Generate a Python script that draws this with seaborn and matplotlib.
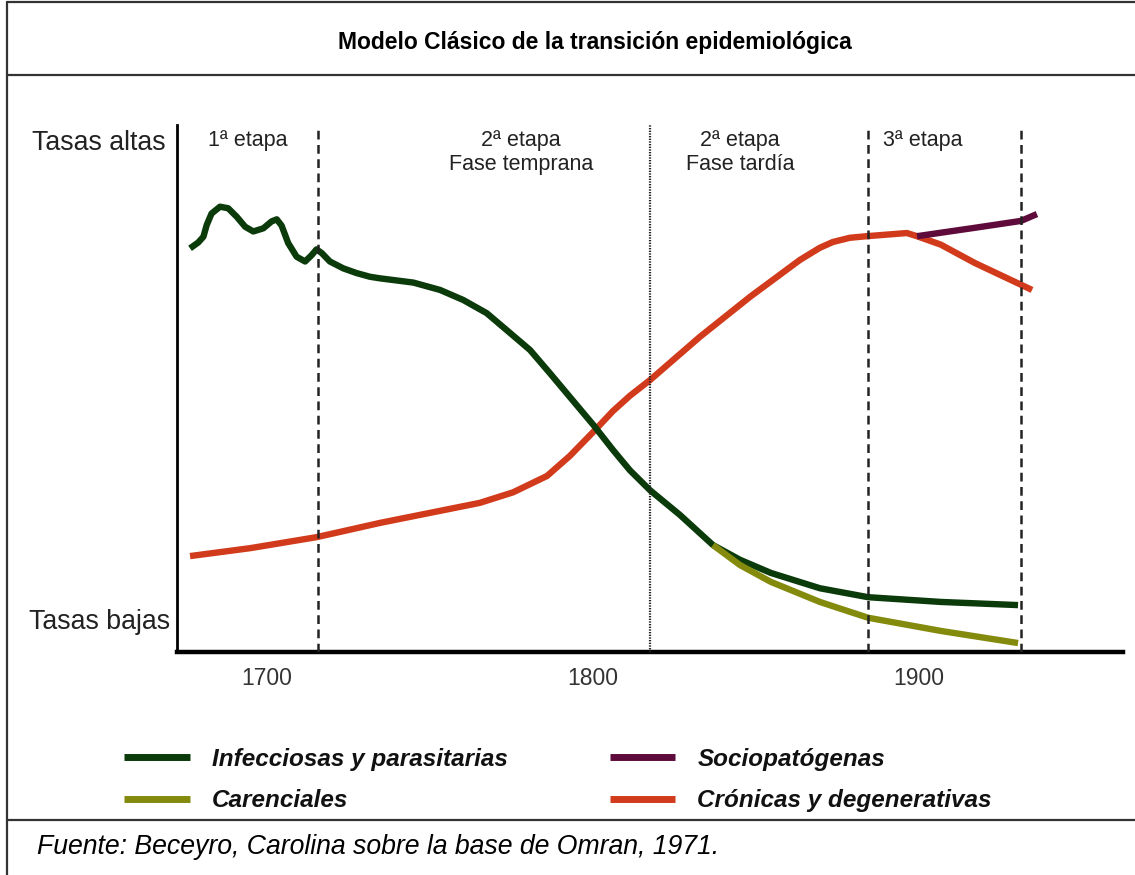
import matplotlib
matplotlib.use("Agg")
import matplotlib.pyplot as plt
from matplotlib.lines import Line2D
import seaborn as sns

sns.set_style("white")
plt.rcParams["font.family"] = ["Liberation Sans", "DejaVu Sans"]

# curves (x = year, y = rate index 0..100)
infec_years = [1676.4, 1678.9, 1680.5, 1681.5, 1683.0, 1685.6, 1688.1, 1690.7, 1693.3, 1695.8,
               1698.9, 1701.4, 1703.0, 1704.5, 1706.5, 1709.1, 1711.7, 1713.7, 1715.2, 1716.8,
               1719.3, 1723.4, 1727.5, 1731.6, 1734.7, 1744.9, 1753.1, 1760.2, 1767.4, 1773.5,
               1780.7, 1786.8, 1792.9, 1800.1, 1806.2, 1811.3, 1817.5, 1826.7, 1836.8, 1845.1,
               1854.6, 1869.6, 1884.4, 1906.7, 1930.4]
infec_vals = [76.6, 77.7, 78.8, 81.0, 83.2, 84.5, 84.2, 82.6, 80.7, 79.8,
              80.4, 81.7, 82.1, 80.9, 77.6, 75.0, 74.1, 75.3, 76.4, 75.7,
              74.1, 72.8, 71.9, 71.2, 70.9, 70.1, 68.7, 66.8, 64.3, 61.1,
              57.3, 52.9, 48.4, 43.1, 38.3, 34.5, 30.7, 26.0, 20.3, 17.5,
              15.0, 12.1, 10.4, 9.5, 8.9]

caren_years = [1836.8, 1845.1, 1854.6, 1869.6, 1884.4, 1906.7, 1930.4]
caren_vals = [20.3, 16.5, 13.3, 9.5, 6.5, 4.0, 1.7]

cronic_years = [1676.4, 1694.8, 1715.3, 1734.7, 1750.0, 1765.3, 1775.5, 1785.9, 1792.9, 1800.0,
                1806.1, 1811.3, 1817.5, 1832.8, 1848.2, 1863.5, 1869.6, 1873.6, 1878.8, 1884.0,
                1896.3, 1899.4, 1906.7, 1917.2, 1934.7]
cronic_vals = [18.2, 19.7, 21.8, 24.5, 26.4, 28.3, 30.3, 33.4, 37.2, 41.7,
               45.7, 48.6, 51.6, 59.8, 67.4, 74.4, 76.7, 77.8, 78.6, 78.9,
               79.5, 78.9, 77.3, 73.8, 68.7]

socio_years = [1899.4, 1917.2, 1931.3, 1936.2]
socio_vals = [78.9, 80.5, 81.8, 83.1]

stage_bounds = [1715.6, 1817.5, 1884.4, 1931.3]
stage_styles = [(0, (3.5, 2.2)), (0, (0.6, 0.6)), (0, (3.5, 2.2)), (0, (3.5, 2.2))]
stage_widths = [1.8, 1.6, 1.8, 1.8]

stage_labels = ["1ª etapa", "2ª etapa\nFase temprana", "2ª etapa\nFase tardía", "3ª etapa"]
stage_label_x = [248, 521, 740, 923]  # pixel centres

year_ticks = [1700, 1800, 1900]

names = ["Infecciosas y parasitarias", "Carenciales", "Sociopatógenas", "Crónicas y degenerativas"]
colors = {"infec": "#0b3a0b", "caren": "#838a0c", "socio": "#5e0b3c", "cronic": "#d23a1c"}

W, H = 1135, 875
fig = plt.figure(figsize=(W / 100, H / 100), dpi=100)
fx = lambda px: px / W
fy = lambda py: 1 - py / H

ax = fig.add_axes([fx(177), fy(652), (1123 - 177) / W, (652 - 125) / H])

lw = 4.6
kw = dict(ax=ax, sort=False, estimator=None, legend=False, linewidth=lw)
sns.lineplot(x=cronic_years, y=cronic_vals, color=colors["cronic"], label=names[3], **kw)
sns.lineplot(x=infec_years, y=infec_vals, color=colors["infec"], label=names[0], **kw)
sns.lineplot(x=caren_years, y=caren_vals, color=colors["caren"], label=names[1], **kw)
sns.lineplot(x=socio_years, y=socio_vals, color=colors["socio"], label=names[2], **kw)
for ln in ax.lines:
    ln.set_solid_joinstyle("round")
    ln.set_solid_capstyle("butt")

for xb, ls, w in zip(stage_bounds, stage_styles, stage_widths):
    ax.axvline(xb, color="#222222", linestyle=ls, linewidth=w, zorder=5)

ax.set_xlim(1672.4, 1962.6)
ax.set_ylim(0, 100)
ax.set_xticks(year_ticks)
ax.set_xticklabels([str(y) for y in year_ticks])
ax.set_yticks([])
ax.tick_params(axis="x", direction="out", length=8, width=2.3, color="black",
               labelsize=16.5, labelcolor="#333333", pad=3)
for s in ["top", "right"]:
    ax.spines[s].set_visible(False)
ax.spines["left"].set_linewidth(2.0)
ax.spines["bottom"].set_linewidth(3.2)
ax.spines["left"].set_color("black")
ax.spines["bottom"].set_color("black")
ax.set_xlabel("")
ax.set_ylabel("")

# y-axis end labels
fig.text(fx(166), fy(143), "Tasas altas", ha="right", va="center", fontsize=19.3, color="#222222")
fig.text(fx(170), fy(622), "Tasas bajas", ha="right", va="center", fontsize=19.3, color="#222222")

for lab, px in zip(stage_labels, stage_label_x):
    fig.text(fx(px), fy(130), lab, ha="center", va="top", fontsize=15.5,
             color="#222222", linespacing=1.2)

fig.text(fx(595), fy(42), "Modelo Clásico de la transición epidemiológica",
         ha="center", va="center", fontsize=16.5, fontweight="bold", color="black")

# legend
order = [1, 2, 3, 0]
handles = [Line2D([0], [0], color=ax.lines[i].get_color(), linewidth=5,
                  solid_capstyle="butt") for i in order]
labels = [ax.lines[i].get_label() for i in order]
fig.legend(handles, labels, ncol=2, loc="center", bbox_to_anchor=(fx(558), fy(780)),
           frameon=False, handlelength=2.7, handletextpad=0.9, columnspacing=4.2,
           labelspacing=0.78, labelcolor="#111111",
           prop=dict(size=17.5, style="italic", weight="bold"))

fig.text(fx(37), fy(847), "Fuente: Beceyro, Carolina sobre la base de Omran, 1971.",
         ha="left", va="center", fontsize=19.2, style="italic", color="black")

# frame lines
border = dict(color="#333333", linewidth=1.6, transform=fig.transFigure)
fig.add_artist(Line2D([fx(7), fx(7)], [0, fy(2)], **border))
fig.add_artist(Line2D([fx(7), 1], [fy(2), fy(2)], **border))
fig.add_artist(Line2D([fx(7), 1], [fy(75), fy(75)], **border))
fig.add_artist(Line2D([fx(7), 1], [fy(820), fy(820)], **border))

fig.savefig("out.png", dpi=100, facecolor="white")
